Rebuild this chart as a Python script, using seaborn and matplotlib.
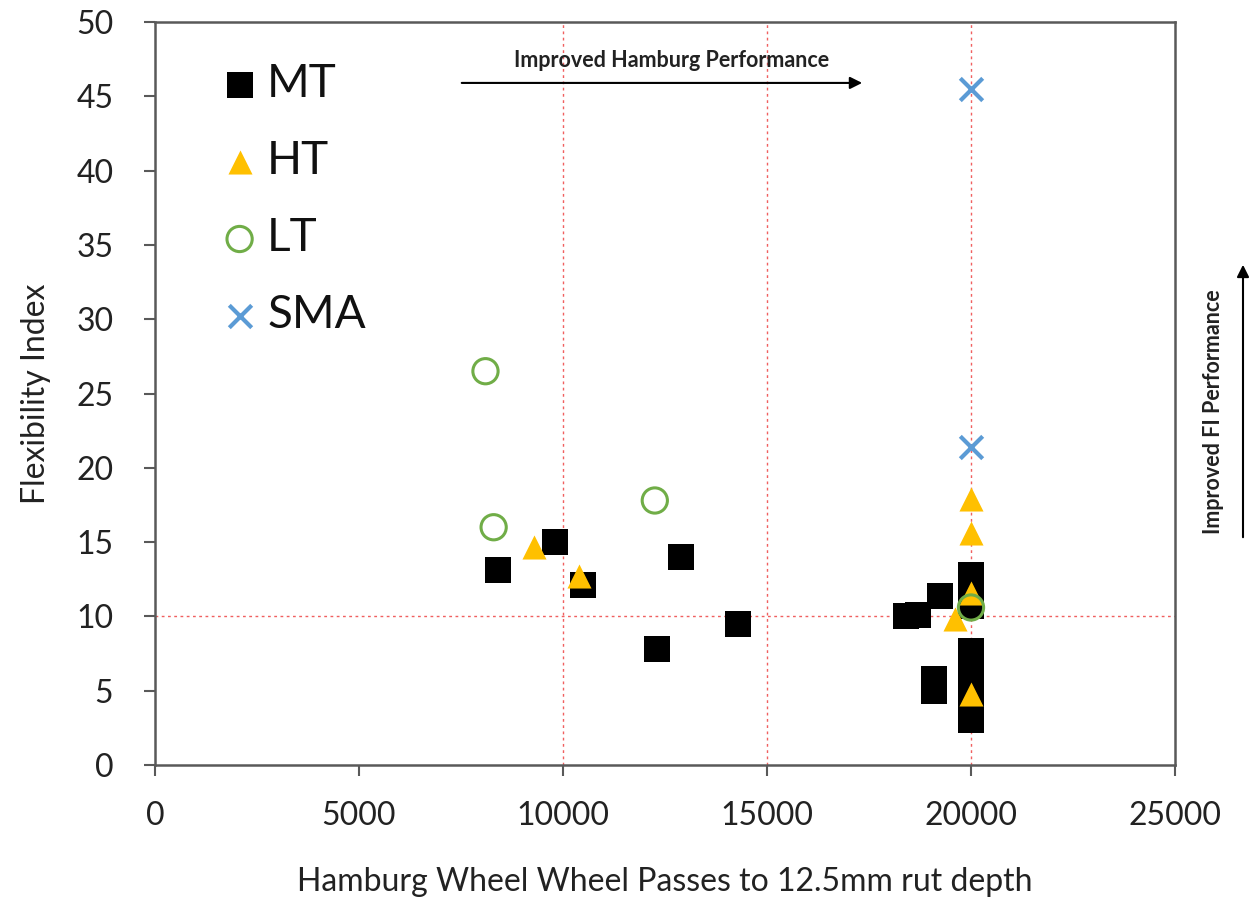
import numpy as np
import pandas as pd
import matplotlib
matplotlib.use("Agg")
import matplotlib.pyplot as plt
import seaborn as sns

# ---- data ----
mt_x = [8400, 9800, 10500, 12900, 12300, 14300, 18400, 18700, 19250, 19100, 19100,
        20000, 20000, 20000, 20000, 20000, 20000, 20000, 20000, 20000]
mt_y = [13.1, 15.0, 12.1, 14.0, 7.8, 9.5, 10.0, 10.1, 11.4, 5.0, 5.8,
        12.8, 12.0, 11.2, 10.7, 7.7, 6.5, 5.5, 4.0, 3.0]
ht_x = [9300, 10400, 20000, 20000, 20000, 19600, 20000]
ht_y = [14.7, 12.7, 17.9, 15.6, 11.6, 9.8, 4.8]
lt_x = [8100, 8300, 12250, 20000]
lt_y = [26.5, 16.0, 17.8, 10.6]
sma_x = [20000, 20000]
sma_y = [45.5, 21.4]

groups = ["MT", "HT", "LT", "SMA"]
x_ticks = [0, 5000, 10000, 15000, 20000, 25000]
y_ticks = [0, 5, 10, 15, 20, 25, 30, 35, 40, 45, 50]
ref_x = [10000, 15000, 20000]
ref_y = [10]

sns.set_style("white")
plt.rcParams['font.family'] = ['Lato', 'DejaVu Sans']

fig = plt.figure(figsize=(12.52, 9.02), dpi=100)
ax = fig.add_axes([155/1252, 1-765/902, (1175-155)/1252, (765-22)/902])

# reference lines
for rx in ref_x:
    ax.axvline(rx, color='#F06060', lw=1.0, ls=(0, (2, 2.5)), zorder=1)
for ry in ref_y:
    ax.axhline(ry, color='#F06060', lw=1.0, ls=(0, (2, 2.5)), zorder=1)

df_mt = pd.DataFrame({"x": mt_x, "y": mt_y})
df_ht = pd.DataFrame({"x": ht_x, "y": ht_y})
df_lt = pd.DataFrame({"x": lt_x, "y": lt_y})
df_sma = pd.DataFrame({"x": sma_x, "y": sma_y})

sns.scatterplot(data=df_mt, x="x", y="y", ax=ax, marker='s', s=330, color='black',
                edgecolor='black', linewidth=0, label="MT", zorder=3)
sns.scatterplot(data=df_ht, x="x", y="y", ax=ax, marker='^', s=300, color='#FFC000',
                edgecolor='#FFC000', linewidth=0, label="HT", zorder=4)
sns.scatterplot(data=df_lt, x="x", y="y", ax=ax, marker='o', s=330, facecolor='none',
                edgecolor='#70AD47', linewidth=2.2, label="LT", zorder=5)
sns.scatterplot(data=df_sma, x="x", y="y", ax=ax, marker='x', s=260, color='#5B9BD5',
                linewidth=3, label="SMA", zorder=6)

ax.set_xlim(0, 25000)
ax.set_ylim(0, 50)
ax.set_xticks(x_ticks)
ax.set_yticks(y_ticks)
ax.tick_params(axis='both', labelsize=23, length=8, width=1.5, direction='out',
               colors='#595959', labelcolor='#222222')
ax.tick_params(axis='x', pad=18)
ax.tick_params(axis='y', pad=22)
ax.xaxis.set_ticks_position('bottom')
ax.yaxis.set_ticks_position('left')
for sp in ax.spines.values():
    sp.set_color('#595959')
    sp.set_linewidth(1.8)

ax.set_xlabel("Hamburg Wheel Wheel Passes to 12.5mm rut depth", fontsize=23,
              color='#222222', labelpad=26)
ax.set_ylabel("Flexibility Index", fontsize=23, color='#222222', labelpad=18)

leg = ax.legend(loc='upper left', bbox_to_anchor=(0.038, 0.969), frameon=False,
                fontsize=33, handletextpad=0.0, labelspacing=0.76, borderaxespad=0,
                handlelength=1.2, markerscale=1.0)
for t in leg.get_texts():
    t.set_color('#111111')

# annotations
ax.annotate("", xy=(17400, 45.9), xytext=(7450, 45.9),
            arrowprops=dict(arrowstyle='-|>', color='black', lw=1.5,
                            mutation_scale=18))
ax.text(12650, 46.7, "Improved Hamburg Performance", ha='center', va='bottom',
        fontsize=15.5, fontweight='bold', color='#222222')

fig.patches.append(matplotlib.patches.FancyArrowPatch(
    (1243/1252, 1-540/902), (1243/1252, 1-262/902), transform=fig.transFigure,
    arrowstyle='-|>', color='black', lw=1.5, mutation_scale=18))
fig.text(1213/1252, 1-412/902, "Improved FI Performance", rotation=90,
         ha='center', va='center', fontsize=15.5, fontweight='bold', color='#222222')

fig.savefig("out.png", dpi=100)
